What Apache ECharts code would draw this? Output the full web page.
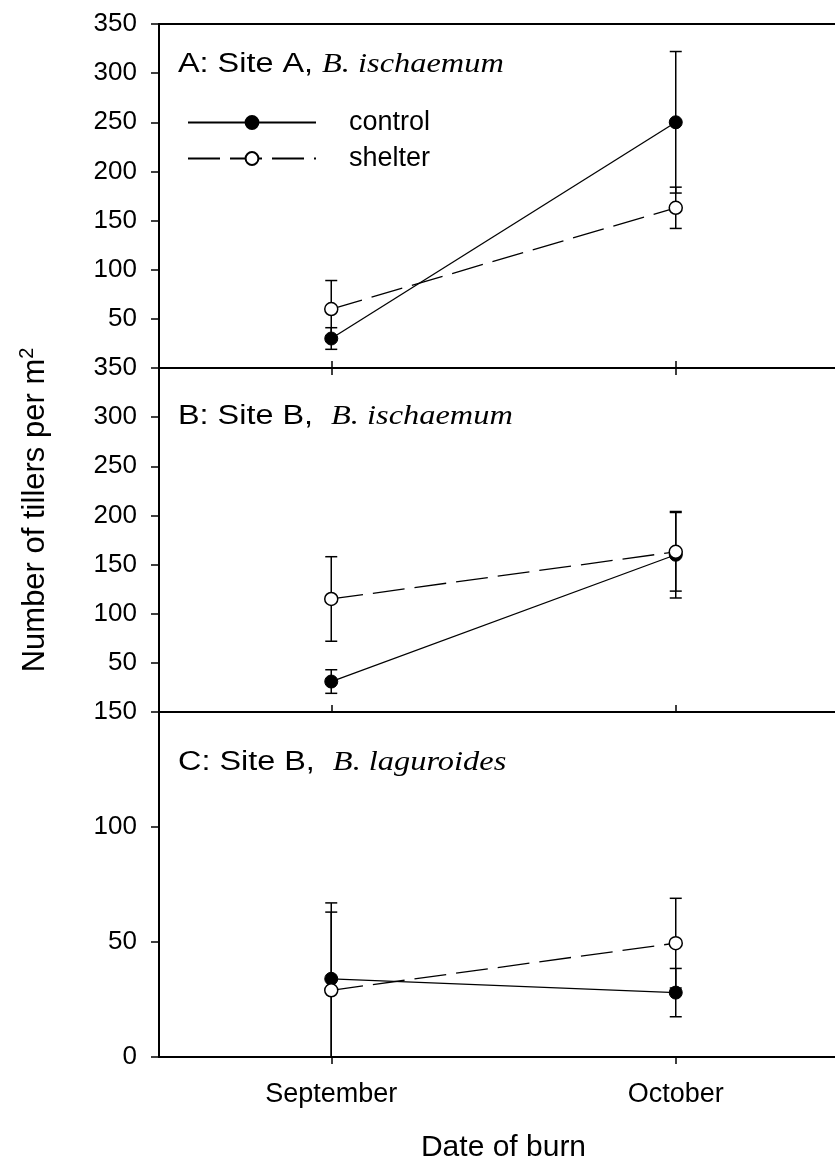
<!DOCTYPE html>
<html>
<head>
<meta charset="utf-8">
<script src="https://cdn.jsdelivr.net/npm/echarts@6/dist/echarts.min.js"></script>
<style>
  html, body { margin: 0; padding: 0; background: #fff; }
  #chart { width: 835px; height: 1167px; }
</style>
</head>
<body>
<div id="chart"></div>
<script>
// Burn dates (x categories)
const categories = ['September', 'October'];

// Panel A: Site A, B. ischaemum — mean tillers per m² and error
const controlA = [30, 250];
const controlAErr = [11, 72];
const shelterA = [60, 163];
const shelterAErr = [29, 21];

// Panel B: Site B, B. ischaemum
const controlB = [31, 160];
const controlBErr = [12, 44];
const shelterB = [115, 163];
const shelterBErr = [43, 40];

// Panel C: Site B, B. laguroides
const controlC = [34, 28];
const controlCErr = [33, 10.5];
const shelterC = [29, 49.5];
const shelterCErr = [34, 19.5];

// y-axis ranges per panel
const yMaxA = 350, yMaxB = 350, yMaxC = 150, yStep = 50;

const SANS = '"Liberation Sans", Arial, sans-serif';
const SERIF = '"Liberation Serif", "Times New Roman", serif';

const chart = echarts.init(document.getElementById('chart'), null, { renderer: 'canvas' });

// panel geometry: the plot frame runs past the right edge of the page
const gridLeft = 159, gridWidth = 689;
const grids = [
  { left: gridLeft, width: gridWidth, top: 24, height: 344 },
  { left: gridLeft, width: gridWidth, top: 368, height: 344 },
  { left: gridLeft, width: gridWidth, top: 712, height: 345 }
].map(g => Object.assign(g, { show: false, containLabel: false, outerBoundsMode: 'none' }));

const AXIS_LINE = { show: true, lineStyle: { color: '#000', width: 2 } };
const TICK_STYLE = { color: '#000', width: 1.5 };

function yAxis(gridIndex, max, showMin) {
  return {
    type: 'value', gridIndex: gridIndex, min: 0, max: max, interval: yStep,
    axisLine: AXIS_LINE,
    axisTick: { show: true, inside: false, length: 8, lineStyle: TICK_STYLE },
    axisLabel: { show: true, showMinLabel: showMin, color: '#000', fontFamily: SANS, fontSize: 26, margin: 22 },
    splitLine: { show: false }
  };
}

function xAxis(gridIndex, position, ticks, opts) {
  return Object.assign({
    type: 'category', gridIndex: gridIndex, position: position, data: categories, boundaryGap: true,
    axisLine: AXIS_LINE,
    axisTick: { show: ticks, alignWithLabel: true, inside: true, length: 7, lineStyle: TICK_STYLE },
    axisLabel: { show: false },
    splitLine: { show: false }
  }, opts || {});
}

const xAxes = [
  xAxis(0, 'bottom', true),            // 0: panel A bottom (data axis)
  xAxis(0, 'top', false),              // 1: panel A top edge
  xAxis(1, 'bottom', true),            // 2: panel B bottom (data axis)
  xAxis(1, 'top', true),               // 3: panel B top edge, inward ticks
  xAxis(2, 'bottom', true, {           // 4: panel C bottom (data axis)
    axisTick: { show: true, alignWithLabel: true, inside: false, length: 7, lineStyle: TICK_STYLE },
    axisLabel: { show: true, color: '#000', fontFamily: SANS, fontSize: 27, margin: 24 },
    name: 'Date of burn', nameLocation: 'middle', nameGap: 76,
    nameTextStyle: { color: '#000', fontFamily: SANS, fontSize: 30 }
  })
];

const yAxes = [yAxis(0, yMaxA, false), yAxis(1, yMaxB, false), yAxis(2, yMaxC, true)];

// vertical error bars with caps, clipped at the panel bottom
function errorSeries(name, xIdx, yIdx, means, errs) {
  const data = means.map((m, i) => [i, m - errs[i], m + errs[i]]);
  return {
    type: 'custom', name: name + ' error', xAxisIndex: xIdx, yAxisIndex: yIdx,
    z: 1, silent: true, data: data,
    renderItem: function (params, api) {
      const x = api.coord([api.value(0), 0])[0];
      const cs = params.coordSys;
      const bottom = cs.y + cs.height;
      let yLow = api.coord([api.value(0), api.value(1)])[1];
      const yHigh = api.coord([api.value(0), api.value(2)])[1];
      const clipped = yLow > bottom - 3;
      if (clipped) yLow = bottom;
      const half = 6;
      const style = { stroke: '#000', lineWidth: 1.5, fill: null };
      const children = [
        { type: 'line', shape: { x1: x, y1: yLow, x2: x, y2: yHigh }, style: style },
        { type: 'line', shape: { x1: x - half, y1: yHigh, x2: x + half, y2: yHigh }, style: style }
      ];
      if (!clipped) {
        children.push({ type: 'line', shape: { x1: x - half, y1: yLow, x2: x + half, y2: yLow }, style: style });
      }
      return { type: 'group', children: children };
    }
  };
}

function controlSeries(xIdx, yIdx, values) {
  return {
    type: 'line', name: 'control', xAxisIndex: xIdx, yAxisIndex: yIdx, z: 3,
    data: values, symbol: 'circle', symbolSize: 13,
    lineStyle: { color: '#000', width: 1.3, type: 'solid' },
    itemStyle: { color: '#000', borderColor: '#000', borderWidth: 1 }
  };
}

function shelterSeries(xIdx, yIdx, values) {
  return {
    type: 'line', name: 'shelter', xAxisIndex: xIdx, yAxisIndex: yIdx, z: 4,
    data: values, symbol: 'circle', symbolSize: 13,
    lineStyle: { color: '#000', width: 1.3, type: [32, 10] },
    itemStyle: { color: '#fff', borderColor: '#000', borderWidth: 1.5 }
  };
}

const series = [
  errorSeries('control', 0, 0, controlA, controlAErr),
  errorSeries('shelter', 0, 0, shelterA, shelterAErr),
  controlSeries(0, 0, controlA),
  shelterSeries(0, 0, shelterA),
  errorSeries('control', 2, 1, controlB, controlBErr),
  errorSeries('shelter', 2, 1, shelterB, shelterBErr),
  controlSeries(2, 1, controlB),
  shelterSeries(2, 1, shelterB),
  errorSeries('control', 4, 2, controlC, controlCErr),
  errorSeries('shelter', 4, 2, shelterC, shelterCErr),
  controlSeries(4, 2, controlC),
  shelterSeries(4, 2, shelterC)
];

function panelTitle(label, species, y) {
  return {
    type: 'text', x: 178, y: y, scaleX: 1.2, scaleY: 1, z: 10,
    style: {
      text: '{a|' + label + '}{b|' + species + '}',
      textAlign: 'left', textVerticalAlign: 'middle',
      rich: {
        a: { fontFamily: SANS, fontSize: 27, fill: '#000', fontWeight: 'normal' },
        b: { fontFamily: SERIF, fontSize: 27, fontStyle: 'italic', fill: '#000' }
      }
    }
  };
}

const option = {
  animation: false,
  backgroundColor: '#fff',
  grid: grids,
  xAxis: xAxes,
  yAxis: yAxes,
  legend: {
    data: ['control', 'shelter'],
    orient: 'vertical', left: 182, top: 104,
    itemWidth: 128, itemHeight: 16, itemGap: 9,
    selectedMode: false,
    textStyle: { color: '#000', fontFamily: SANS, fontSize: 27, lineHeight: 20, padding: [0, 0, 0, 28] }
  },
  series: series,
  graphic: [
    panelTitle('A: Site A, ', 'B. ischaemum', 65),
    panelTitle('B: Site B,  ', 'B. ischaemum', 417),
    panelTitle('C: Site B,  ', 'B. laguroides', 763),
    {
      type: 'text', x: 35, y: 510, rotation: Math.PI / 2, z: 10,
      style: {
        text: '{m|Number of tillers per m}{s|2}',
        textAlign: 'center', textVerticalAlign: 'middle',
        rich: {
          m: { fontFamily: SANS, fontSize: 31, fill: '#000', lineHeight: 36, verticalAlign: 'middle' },
          s: { fontFamily: SANS, fontSize: 20, fill: '#000', lineHeight: 20, verticalAlign: 'top' }
        }
      }
    }
  ]
};

chart.setOption(option);
</script>
</body>
</html>
